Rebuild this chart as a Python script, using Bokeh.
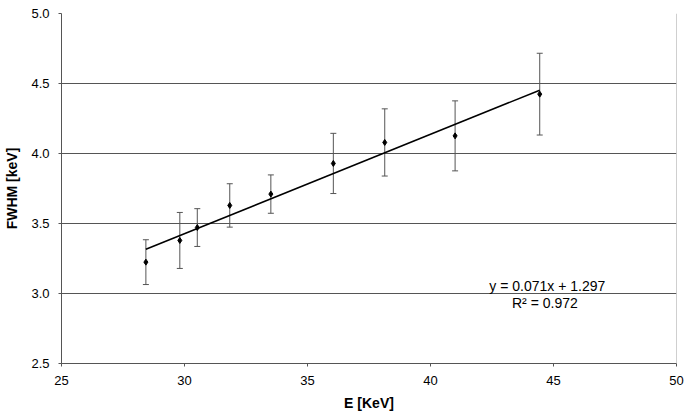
from bokeh.plotting import figure
from bokeh.models import (ColumnDataSource, Whisker, Range1d, FixedTicker,
                          PrintfTickFormatter, Label, Span)
from bokeh.embed import file_html
from bokeh.resources import INLINE

# ---- data ----
energy = [28.43, 29.81, 30.52, 31.84, 33.51, 36.05, 38.14, 41.00, 44.44]
fwhm = [3.224, 3.379, 3.471, 3.629, 3.710, 3.929, 4.079, 4.126, 4.424]
err = [0.16, 0.20, 0.135, 0.155, 0.137, 0.215, 0.24, 0.25, 0.292]
slope = 0.071
intercept = 1.297
r_squared = 0.972
x_ticks = [25, 30, 35, 40, 45, 50]
y_ticks = [2.5, 3.0, 3.5, 4.0, 4.5, 5.0]

FONT = "Liberation Sans"

src = ColumnDataSource(dict(
    x=energy, y=fwhm,
    lower=[v - e for v, e in zip(fwhm, err)],
    upper=[v + e for v, e in zip(fwhm, err)],
))

p = figure(width=684, height=417, output_backend="svg", toolbar_location=None,
           x_range=Range1d(25, 50), y_range=Range1d(2.5, 5.0),
           min_border_left=61, min_border_right=8, min_border_top=13,
           min_border_bottom=54)
p.background_fill_color = "white"
p.border_fill_color = "white"
p.outline_line_color = None

# axes
for ax in (p.xaxis[0], p.yaxis[0]):
    ax.axis_line_color = "#555555"
    ax.major_tick_line_color = "#555555"
    ax.major_tick_out = 3
    ax.major_tick_in = 0
    ax.minor_tick_line_color = None
    ax.major_label_text_font = FONT
    ax.major_label_text_font_size = "13px"
    ax.major_label_text_color = "black"
    ax.axis_label_text_font = FONT
    ax.axis_label_text_font_size = "14px"
    ax.axis_label_text_font_style = "bold"
    ax.axis_label_text_color = "black"

p.xaxis.ticker = FixedTicker(ticks=x_ticks)
p.yaxis.ticker = FixedTicker(ticks=y_ticks)
p.yaxis.formatter = PrintfTickFormatter(format="%.1f")
p.xaxis.axis_label = "E [KeV]"
p.yaxis.axis_label = "FWHM [keV]"
p.xaxis.major_label_standoff = 9
p.yaxis.major_label_standoff = 9
p.xaxis.axis_label_standoff = 7
p.yaxis.axis_label_standoff = 8

p.xgrid.grid_line_color = None
p.ygrid.grid_line_color = "#555555"
p.ygrid.grid_line_width = 1

# right border of plot area
p.add_layout(Span(location=50, dimension="height", line_color="#a0a0a0",
                  line_width=1))

# error bars
wh = Whisker(source=src, base="x", lower="lower", upper="upper",
             line_color="#555555", line_width=1)
wh.upper_head.size = 6
wh.lower_head.size = 6
wh.upper_head.line_color = "#555555"
wh.lower_head.line_color = "#555555"
p.add_layout(wh)

# linear fit
fit_x = [energy[0], energy[-1]]
fit_y = [slope * v + intercept for v in fit_x]
p.line(fit_x, fit_y, line_color="black", line_width=1.6)

# data points
p.scatter("x", "y", source=src, marker="diamond", size=6,
          fill_color="black", line_color="black")

# equation labels
p.add_layout(Label(x=44.75, y=3.055, text=f"y = {slope:.3f}x + {intercept:.3f}",
                   text_font=FONT, text_font_size="14px", text_color="black",
                   text_align="center", text_baseline="middle"))
p.add_layout(Label(x=44.65, y=2.93, text=f"R\u00b2 = {r_squared:.3f}",
                   text_font=FONT, text_font_size="14px", text_color="black",
                   text_align="center", text_baseline="middle"))

open("out.html", "w").write(file_html(p, INLINE))
